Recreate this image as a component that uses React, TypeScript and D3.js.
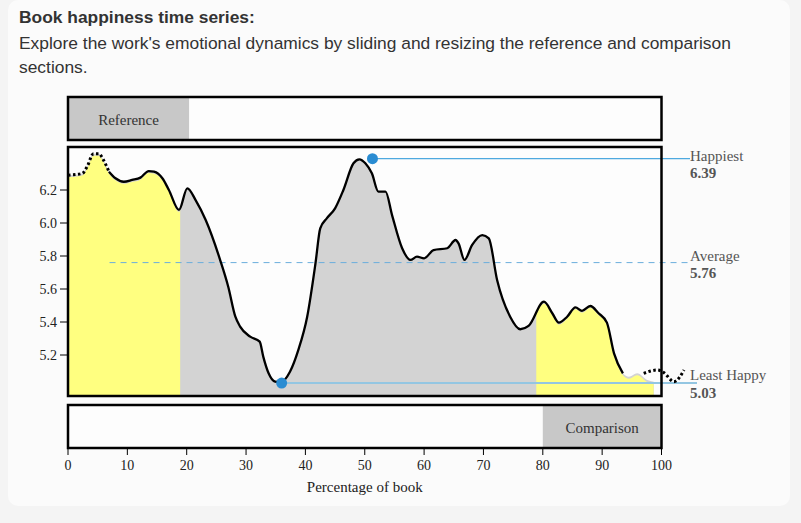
import React from "react";
import * as d3 from "d3";

// ---------- data ----------
const startPct = [0, 2.4, 3.2, 4.3, 5.2, 6.0, 6.9];
const startVal = [6.29, 6.30, 6.34, 6.42, 6.42, 6.38, 6.311];

const mainPct = [6.9, 8.0, 9.4, 10.8, 12.2, 13.6, 14.5, 15.9, 17.0, 18.7, 20.1, 21.5, 23.2, 25.6, 27.0, 28.2, 29.0, 30.7, 32.3, 32.9, 33.8, 34.9, 35.8, 37.4, 38.8, 40.3, 41.7, 42.5, 43.6, 45.0, 46.4, 48.1, 49.1, 50.1, 51.2, 52.3, 53.5, 54.6, 56.3, 57.7, 58.8, 60.0, 61.6, 63.9, 65.3, 65.8, 66.8, 68.1, 69.8, 70.9, 72.3, 74.5, 76.2, 77.6, 80.2, 81.6, 82.7, 84.1, 85.5, 86.6, 88.0, 89.4, 90.8, 92.0, 93.5];
const mainVal = [6.311, 6.271, 6.25, 6.261, 6.275, 6.315, 6.311, 6.271, 6.20, 6.079, 6.21, 6.139, 6.018, 5.78, 5.614, 5.432, 5.372, 5.311, 5.281, 5.19, 5.089, 5.038, 5.035, 5.099, 5.23, 5.432, 5.756, 5.968, 6.028, 6.089, 6.20, 6.362, 6.386, 6.362, 6.301, 6.19, 6.19, 6.048, 5.847, 5.776, 5.796, 5.786, 5.836, 5.847, 5.897, 5.877, 5.776, 5.867, 5.927, 5.907, 5.655, 5.432, 5.356, 5.376, 5.523, 5.453, 5.396, 5.432, 5.489, 5.468, 5.497, 5.453, 5.396, 5.21, 5.089];

const endPct = [97.0, 99.3, 100.4, 102.1, 103.8];
const endVal = [5.089, 5.109, 5.093, 5.038, 5.109];

const tailPct = [94.5, 95.9, 97.6, 98.7];
const tailVal = [5.068, 5.089, 5.048, 5.038];

const yTicks = [5.2, 5.4, 5.6, 5.8, 6.0, 6.2];
const xTicks = [0, 10, 20, 30, 40, 50, 60, 70, 80, 90, 100];

const referenceArea = [0, 18.9];
const comparisonArea = [78.9, 98.7];
const referenceBrush = [0, 20.4];
const comparisonBrush = [80, 100];

const happiest = { pct: 51.3, val: 6.39 };
const leastHappy = { pct: 36.0, val: 5.03 };
const average = 5.76;

// ---------- layout ----------
const W = 801;
const H = 523;
const X0 = 68;
const X1 = 661.5;
const chartTop = 147;
const chartBottom = 396;
const refTop = 97;
const refBottom = 140;
const cmpTop = 405;
const cmpBottom = 448;
const labelX = 690;

const x = d3.scaleLinear().domain([0, 100]).range([X0, X1]);
const y = d3.scaleLinear().domain([5.2, 6.2]).range([355, 190]);

type P = [number, number];
const zip = (a: number[], b: number[]): P[] => a.map((v, i) => [v, b[i]]);

const startPts = zip(startPct, startVal);
const mainPts = zip(mainPct, mainVal);
const endPts = zip(endPct, endVal);
const tailPts = zip(tailPct, tailVal);
const areaPts: P[] = [...startPts, ...mainPts.slice(1), ...tailPts];

const line = d3
  .line<P>()
  .x((d) => x(d[0]))
  .y((d) => y(d[1]))
  .curve(d3.curveMonotoneX);

const area = d3
  .area<P>()
  .x((d) => x(d[0]))
  .y0(chartBottom)
  .y1((d) => y(d[1]))
  .curve(d3.curveMonotoneX);

const serif = "'Liberation Serif', 'Times New Roman', serif";
const sans = "'Liberation Sans', Arial, Helvetica, sans-serif";

export default function App() {
  return (
    <div
      style={{
        position: "absolute",
        left: 0,
        top: 0,
        width: W,
        height: H,
        background: "#f4f4f4",
        overflow: "hidden",
      }}
    >
      <svg width={W} height={H} style={{ display: "block" }}>
        <defs>
          <clipPath id="chartClip">
            <rect x={X0} y={chartTop} width={X1 - X0} height={chartBottom - chartTop} />
          </clipPath>
          <clipPath id="refClip">
            <rect
              x={x(referenceArea[0])}
              y={chartTop}
              width={x(referenceArea[1]) - x(referenceArea[0])}
              height={chartBottom - chartTop}
            />
          </clipPath>
          <clipPath id="cmpClip">
            <rect
              x={x(comparisonArea[0])}
              y={chartTop}
              width={x(comparisonArea[1]) - x(comparisonArea[0])}
              height={chartBottom - chartTop}
            />
          </clipPath>
        </defs>

        <rect x={8} y={0} width={782} height={506} rx={10} fill="#fbfbfb" />

        {/* title */}
        <text x={19} y={23} fontFamily={sans} fontSize={17.4} fontWeight="bold" fill="#333">
          Book happiness time series:
        </text>
        <text x={19} y={49} fontFamily={sans} fontSize={17.4} fill="#333">
          Explore the work's emotional dynamics by sliding and resizing the reference and comparison
        </text>
        <text x={19} y={73} fontFamily={sans} fontSize={17.4} fill="#333">
          sections.
        </text>

        {/* reference brush */}
        <rect x={X0} y={refTop} width={X1 - X0} height={refBottom - refTop} fill="#fdfdfd" />
        <rect
          x={x(referenceBrush[0])}
          y={refTop}
          width={x(referenceBrush[1]) - x(referenceBrush[0])}
          height={refBottom - refTop}
          fill="#c8c8c8"
        />
        <rect x={X0} y={refTop} width={X1 - X0} height={refBottom - refTop} fill="none" stroke="#000" strokeWidth={2.5} />
        <text
          x={(x(referenceBrush[0]) + x(referenceBrush[1])) / 2}
          y={125}
          textAnchor="middle"
          fontFamily={serif}
          fontSize={15}
          fill="#333"
        >
          Reference
        </text>

        {/* main chart */}
        <rect x={X0} y={chartTop} width={X1 - X0} height={chartBottom - chartTop} fill="#fdfdfd" />
        <g clipPath="url(#chartClip)">
          <path d={area(areaPts) || ""} fill="#d3d3d3" />
        </g>
        <g clipPath="url(#refClip)">
          <path d={area(areaPts) || ""} fill="#ffff80" transform="translate(0,2)" />
        </g>
        <g clipPath="url(#cmpClip)">
          <path d={area(areaPts) || ""} fill="#ffff80" transform="translate(0,2)" />
        </g>

        {/* reference lines */}
        <line
          x1={x(7)}
          x2={labelX}
          y1={y(average)}
          y2={y(average)}
          stroke="#6aaedc"
          strokeWidth={1}
          strokeDasharray="6,5"
        />
        <line
          x1={x(happiest.pct)}
          x2={labelX}
          y1={y(happiest.val)}
          y2={y(happiest.val)}
          stroke="#4ea9df"
          strokeWidth={1.2}
        />
        <line
          x1={x(leastHappy.pct)}
          x2={labelX + 7}
          y1={y(leastHappy.val)}
          y2={y(leastHappy.val)}
          stroke="#93c6e2"
          strokeWidth={2}
        />

        {/* lines */}
        <path d={line(mainPts) || ""} fill="none" stroke="#000" strokeWidth={2.3} />
        <path d={line(startPts) || ""} fill="none" stroke="#000" strokeWidth={3} strokeDasharray="2.5,2.5" />
        <path d={line(endPts) || ""} fill="none" stroke="#000" strokeWidth={3} strokeDasharray="2.5,2.5" />

        <rect x={X0} y={chartTop} width={X1 - X0} height={chartBottom - chartTop} fill="none" stroke="#000" strokeWidth={2.5} />

        {/* markers */}
        <circle cx={x(happiest.pct)} cy={y(happiest.val)} r={5.5} fill="#2a8cd2" />
        <circle cx={x(leastHappy.pct)} cy={y(leastHappy.val)} r={5.5} fill="#2a8cd2" />

        {/* y axis */}
        {yTicks.map((t) => (
          <g key={t}>
            <line x1={X0 - 8} x2={X0} y1={y(t)} y2={y(t)} stroke="#000" strokeWidth={1} />
            <text
              x={X0 - 11}
              y={y(t)}
              dy="0.34em"
              textAnchor="end"
              fontFamily={serif}
              fontSize={14}
              fill="#222"
            >
              {d3.format(".1f")(t)}
            </text>
          </g>
        ))}

        {/* right labels */}
        <g fontFamily={serif} fontSize={15} fill="#555">
          <text x={labelX} y={161}>Happiest</text>
          <text x={labelX} y={178} fontWeight="bold">{d3.format(".2f")(happiest.val)}</text>
          <text x={labelX} y={261}>Average</text>
          <text x={labelX} y={278} fontWeight="bold">{d3.format(".2f")(average)}</text>
          <text x={labelX} y={380}>Least Happy</text>
          <text x={labelX} y={398} fontWeight="bold">{d3.format(".2f")(leastHappy.val)}</text>
        </g>

        {/* comparison brush */}
        <rect x={X0} y={cmpTop} width={X1 - X0} height={cmpBottom - cmpTop} fill="#fdfdfd" />
        <rect
          x={x(comparisonBrush[0])}
          y={cmpTop}
          width={x(comparisonBrush[1]) - x(comparisonBrush[0])}
          height={cmpBottom - cmpTop}
          fill="#c8c8c8"
        />
        <rect x={X0} y={cmpTop} width={X1 - X0} height={cmpBottom - cmpTop} fill="none" stroke="#000" strokeWidth={2.5} />
        <text
          x={(x(comparisonBrush[0]) + x(comparisonBrush[1])) / 2}
          y={433}
          textAnchor="middle"
          fontFamily={serif}
          fontSize={15}
          fill="#333"
        >
          Comparison
        </text>

        {/* x axis */}
        {xTicks.map((t) => (
          <g key={t}>
            <line x1={x(t)} x2={x(t)} y1={cmpBottom} y2={cmpBottom + 7} stroke="#000" strokeWidth={1} />
            <text
              x={x(t)}
              y={470}
              textAnchor="middle"
              fontFamily={serif}
              fontSize={14}
              fill="#222"
            >
              {t}
            </text>
          </g>
        ))}
        <text x={(X0 + X1) / 2} y={492} textAnchor="middle" fontFamily={serif} fontSize={15} fill="#222">
          Percentage of book
        </text>
      </svg>
    </div>
  );
}
